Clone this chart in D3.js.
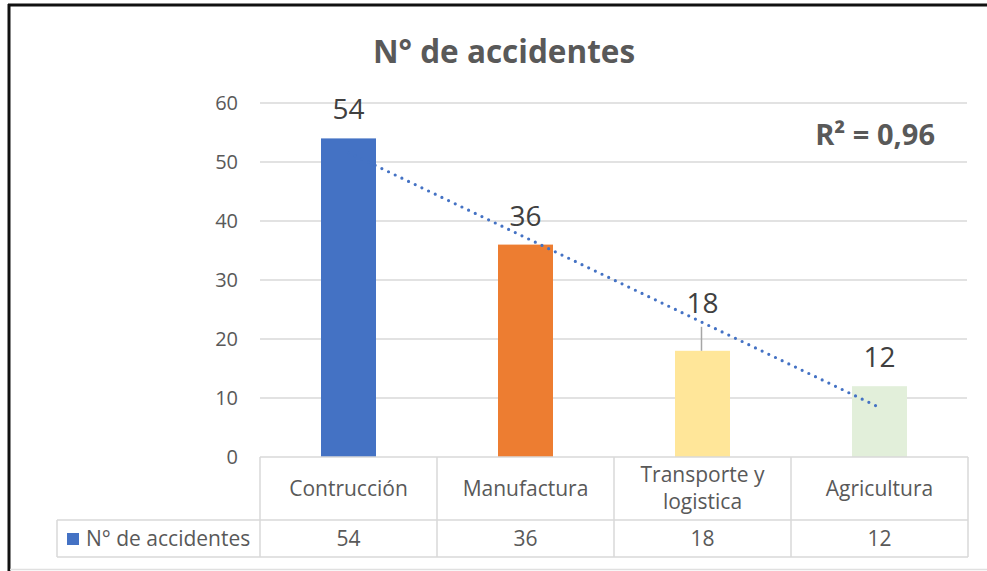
<!DOCTYPE html>
<html>
<head>
<meta charset="utf-8">
<script src="https://cdn.jsdelivr.net/npm/d3@7"></script>
<style>
  body { margin: 0; background: #fff; }
  text { font-family: "Open Sans", sans-serif; }
</style>
</head>
<body>
<svg id="chart"></svg>
<script>
const categories = ["Contrucción", "Manufactura", "Transporte y logistica", "Agricultura"]
const catLines = [["Contrucción"], ["Manufactura"], ["Transporte y", "logistica"], ["Agricultura"]]
const values = [54, 36, 18, 12]
const barColors = ["#4472C4", "#ED7D31", "#FFE699", "#E2EFDA"]
const yTicks = [0, 10, 20, 30, 40, 50, 60]
const seriesName = "N° de accidentes"

const W = 987, H = 571
const plot = {left: 260, right: 968, top: 103, bottom: 457}
const grid = "#d9d9d9", txt = "#595959"

const svg = d3.select("#chart").attr("width", W).attr("height", H)

// outer frame (black top + left, grey bottom)
svg.append("line").attr("x1", 8).attr("x2", W).attr("y1", 5).attr("y2", 5)
   .attr("stroke", "#111").attr("stroke-width", 3)
svg.append("line").attr("x1", 9).attr("x2", 9).attr("y1", 4).attr("y2", H)
   .attr("stroke", "#111").attr("stroke-width", 3)
svg.append("line").attr("x1", 10).attr("x2", W).attr("y1", 569.5).attr("y2", 569.5)
   .attr("stroke", "#e0e0e0").attr("stroke-width", 1.5)

let y = d3.scaleLinear().domain([0, 60]).range([plot.bottom, plot.top])
let x = d3.scaleBand().domain(categories).range([plot.left, plot.right])
let xi = d3.scaleLinear().domain([0.5, categories.length + 0.5]).range([plot.left, plot.right])
const barW = 55

// gridlines
svg.append("g").selectAll("line")
  .data(yTicks.filter(d => d > 0))
  .enter().append("line")
  .attr("x1", plot.left).attr("x2", plot.right - 1)
  .attr("y1", d => y(d)).attr("y2", d => y(d))
  .attr("stroke", grid).attr("stroke-width", 1.5)

// y tick labels
svg.append("g").selectAll("text")
  .data(yTicks)
  .enter().append("text")
  .attr("x", 238).attr("y", d => y(d))
  .attr("dy", "0.35em")
  .attr("text-anchor", "end")
  .style("font-size", "20px").style("fill", txt)
  .text(d => d)

// bars
svg.append("g").selectAll("rect")
  .data(values)
  .enter().append("rect")
  .attr("x", (d, i) => x(categories[i]) + x.bandwidth() / 2 - barW / 2)
  .attr("y", d => y(d))
  .attr("width", barW)
  .attr("height", d => y(0) - y(d))
  .attr("fill", (d, i) => barColors[i])

// linear trendline (least squares)
let xs = values.map((d, i) => i + 1)
let mx = d3.mean(xs), my = d3.mean(values)
let slope = d3.sum(xs, (d, i) => (d - mx) * (values[i] - my)) / d3.sum(xs, d => (d - mx) * (d - mx))
let icpt = my - slope * mx
let ssTot = d3.sum(values, d => (d - my) * (d - my))
let ssRes = d3.sum(values, (d, i) => Math.pow(d - (icpt + slope * xs[i]), 2))
let r2 = 1 - ssRes / ssTot
svg.append("line")
  .attr("x1", xi(1)).attr("y1", y(icpt + slope))
  .attr("x2", xi(values.length)).attr("y2", y(icpt + slope * values.length))
  .attr("stroke", "#4472C4").attr("stroke-width", 3.2)
  .attr("stroke-linecap", "round")
  .attr("stroke-dasharray", "0 7.4")

svg.append("text")
  .attr("x", 935).attr("y", 145)
  .attr("text-anchor", "end")
  .style("font-size", "29px").style("font-weight", "bold").style("fill", txt)
  .text("R² = " + r2.toFixed(2).replace(".", ","))

// data labels (the 18 is lifted with a leader line)
const lift = [0, 0, 19, 0]
svg.append("g").selectAll("line")
  .data(values.filter((d, i) => lift[i] > 0))
  .enter().append("line")
  .attr("x1", d => x(categories[values.indexOf(d)]) + x.bandwidth() / 2 - 1)
  .attr("x2", d => x(categories[values.indexOf(d)]) + x.bandwidth() / 2 - 1)
  .attr("y1", d => y(d) - lift[values.indexOf(d)] - 5).attr("y2", d => y(d))
  .attr("stroke", "#a6a6a6").attr("stroke-width", 1.5)
svg.append("g").selectAll("text")
  .data(values)
  .enter().append("text")
  .attr("x", (d, i) => x(categories[i]) + x.bandwidth() / 2)
  .attr("y", (d, i) => y(d) - 19 - lift[i])
  .attr("text-anchor", "middle")
  .style("font-size", "28px").style("fill", "#404040")
  .text(d => d)

// title
svg.append("text")
  .attr("x", 504).attr("y", 63)
  .attr("text-anchor", "middle")
  .style("font-size", "31.5px").style("font-weight", "bold").style("fill", txt)
  .text(seriesName)

// data table
const t = {top: 457, mid: 520, bottom: 557, legLeft: 57}
let tbl = svg.append("g").attr("stroke", grid).attr("stroke-width", 1.5)
tbl.append("line").attr("x1", plot.left).attr("x2", plot.right).attr("y1", t.top).attr("y2", t.top)
tbl.append("line").attr("x1", t.legLeft).attr("x2", plot.right).attr("y1", t.mid).attr("y2", t.mid)
tbl.append("line").attr("x1", t.legLeft).attr("x2", plot.right).attr("y1", t.bottom).attr("y2", t.bottom)
tbl.append("line").attr("x1", t.legLeft).attr("x2", t.legLeft).attr("y1", t.mid).attr("y2", t.bottom)
tbl.selectAll(".v")
  .data(categories.concat(["end"]))
  .enter().append("line")
  .attr("x1", (d, i) => xi(i + 0.5)).attr("x2", (d, i) => xi(i + 0.5))
  .attr("y1", t.top).attr("y2", t.bottom)

let heads = svg.append("g").selectAll("text")
  .data(catLines)
  .enter().append("text")
  .attr("text-anchor", "middle")
  .style("font-size", "21px").style("fill", txt)
heads.selectAll("tspan")
  .data((d, i) => d.map(s => ({s: s, i: i, n: d.length})))
  .enter().append("tspan")
  .attr("x", d => x(categories[d.i]) + x.bandwidth() / 2)
  .attr("y", (d, j) => (t.top + t.mid) / 2 + 7 + (j - (d.n - 1) / 2) * 27)
  .text(d => d.s)

svg.append("g").selectAll("text")
  .data(values)
  .enter().append("text")
  .attr("x", (d, i) => x(categories[i]) + x.bandwidth() / 2)
  .attr("y", (t.mid + t.bottom) / 2 + 7)
  .attr("text-anchor", "middle")
  .style("font-size", "21px").style("fill", txt)
  .text(d => d)

svg.append("rect")
  .attr("x", 67).attr("y", 533).attr("width", 12).attr("height", 12)
  .attr("fill", barColors[0])
svg.append("text")
  .attr("x", 86).attr("y", (t.mid + t.bottom) / 2 + 7)
  .style("font-size", "21px").style("fill", txt)
  .text(seriesName)
</script>
</body>
</html>
